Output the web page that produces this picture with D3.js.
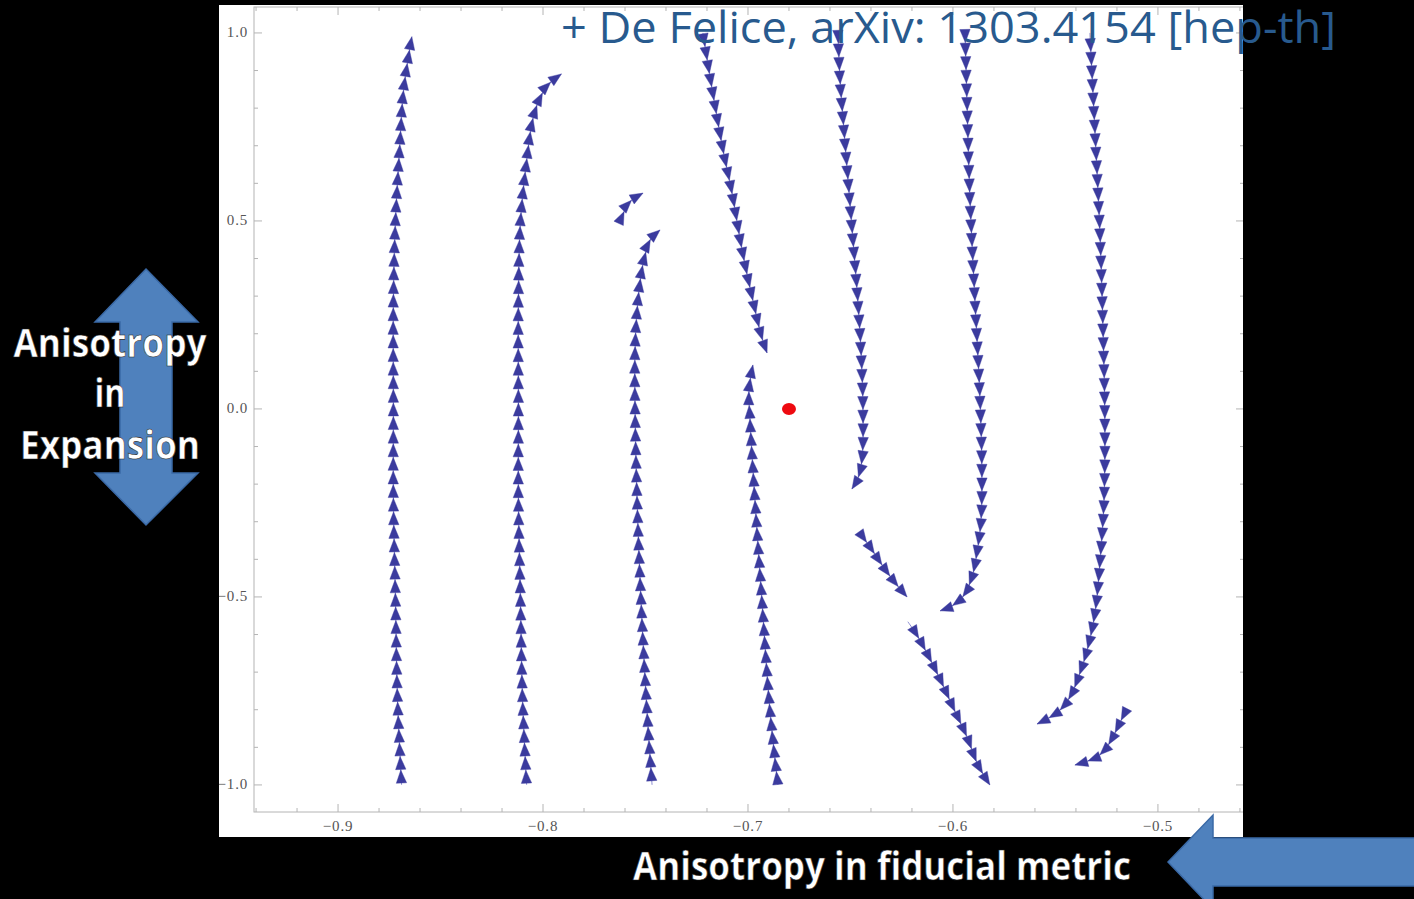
<!DOCTYPE html>
<meta charset="utf-8">
<style>
  body { margin: 0; background: #000; }
  svg { display: block; }
</style>
<div id="my_dataviz"></div>
<script src="https://d3js.org/d3.v7.min.js"></script>
<script>

// tick values
var xMajor = [-0.9, -0.8, -0.7, -0.6, -0.5];
var yMajor = [-1.0, -0.5, 0.0, 0.5, 1.0];

// fixed point of the flow
var fixedPoint = [-0.68, 0.0];

// streamlines, points given in the direction of the flow
var streamA = [[-0.869,-1.0],[-0.871,-0.77],[-0.872,-0.5],[-0.873,-0.24],[-0.873,0.0],[-0.873,0.29],[-0.872,0.5],[-0.870,0.69],[-0.868,0.85],[-0.864,0.99]];
var streamB = [[-0.808,-1.0],[-0.810,-0.77],[-0.811,-0.51],[-0.812,-0.24],[-0.812,0.0],[-0.812,0.29],[-0.811,0.5],[-0.808,0.66],[-0.805,0.77],[-0.8015,0.827],[-0.7976,0.862],[-0.791,0.891]];
var streamC = [[-0.7468,-1.0],[-0.7493,-0.80],[-0.7522,-0.508],[-0.7541,-0.242],[-0.7551,0.0],[-0.7551,0.157],[-0.7541,0.263],[-0.7522,0.356],[-0.7502,0.410],[-0.7478,0.449],[-0.7429,0.476]];
var streamFrag = [[-0.7624,0.5],[-0.7605,0.524],[-0.7576,0.551],[-0.7512,0.574]];
var streamD = [[-0.6854,-1.0],[-0.6893,-0.80],[-0.6932,-0.508],[-0.6966,-0.242],[-0.6990,-0.029],[-0.6995,0.051],[-0.6976,0.117]];
var streamE = [[-0.7220,1.0],[-0.7195,0.915],[-0.7166,0.822],[-0.7122,0.689],[-0.7078,0.574],[-0.7029,0.423],[-0.6980,0.298],[-0.6932,0.189],[-0.6907,0.149]];
var streamF = [[-0.6561,1.0],[-0.6551,0.875],[-0.6532,0.742],[-0.6512,0.609],[-0.6488,0.449],[-0.6468,0.316],[-0.6449,0.157],[-0.6439,-0.003],[-0.6444,-0.136],[-0.6463,-0.184],[-0.6493,-0.213]];
var streamG = [[-0.5941,1.0],[-0.5932,0.822],[-0.5917,0.556],[-0.5893,0.290],[-0.5868,0.024],[-0.5859,-0.162],[-0.5863,-0.295],[-0.5883,-0.383],[-0.5907,-0.447],[-0.5946,-0.495],[-0.6005,-0.524],[-0.6063,-0.537]];
var streamH = [[-0.5332,1.0],[-0.5307,0.734],[-0.5283,0.468],[-0.5268,0.210],[-0.5259,-0.029],[-0.5263,-0.242],[-0.5283,-0.410],[-0.5307,-0.543],[-0.5341,-0.633],[-0.5380,-0.702],[-0.5429,-0.766],[-0.5488,-0.806],[-0.5590,-0.838]];
var streamI = [[-0.6454,-0.330],[-0.6395,-0.375],[-0.6346,-0.415],[-0.6293,-0.455],[-0.6224,-0.5]];
var streamJ = [[-0.6220,-0.566],[-0.6171,-0.606],[-0.6078,-0.702],[-0.6000,-0.793],[-0.5932,-0.872],[-0.5878,-0.947],[-0.5820,-1.0]];
var streamK = [[-0.5151,-0.801],[-0.5171,-0.819],[-0.5210,-0.862],[-0.5249,-0.899],[-0.5298,-0.926],[-0.5405,-0.947]];

var streams = [streamA, streamB, streamC, streamFrag, streamD, streamE, streamF, streamG, streamH, streamI, streamJ, streamK];

var W = 1414, H = 899;

var svg = d3.select("#my_dataviz")
  .append("svg")
    .attr("width", W)
    .attr("height", H);

svg.append("rect").attr("width", W).attr("height", H).attr("fill", "#000");

// white slide area
svg.append("rect")
  .attr("x", 219).attr("y", 5)
  .attr("width", 1024).attr("height", 832)
  .attr("fill", "#fff");

svg.append("clipPath").attr("id", "plotclip")
  .append("rect").attr("x", 219).attr("y", 5).attr("width", 1024).attr("height", 832);

// scales
var x = d3.scaleLinear().domain([-0.941, -0.4585]).range([254, 1243]);
var y = d3.scaleLinear().domain([-1.072, 1.069]).range([812, 7]);

var frame = svg.append("g").attr("clip-path", "url(#plotclip)");
var frameColor = "#b4b4b4";

// frame box
frame.append("rect")
  .attr("x", x.range()[0]).attr("y", y.range()[1])
  .attr("width", x.range()[1] - x.range()[0] + 2)
  .attr("height", y.range()[0] - y.range()[1])
  .attr("fill", "none").attr("stroke", frameColor).attr("stroke-width", 1);

// ticks pointing inward
var xMinor = d3.range(-0.94, -0.459, 0.02);
var yMinor = d3.range(-1.0, 1.001, 0.1);
function isMajor(v, arr) { return arr.some(function(m) { return Math.abs(m - v) < 1e-6; }); }

xMinor.forEach(function(v) {
  var len = isMajor(v, xMajor) ? 8 : 4;
  frame.append("line").attr("x1", x(v)).attr("x2", x(v))
    .attr("y1", y.range()[0]).attr("y2", y.range()[0] - len)
    .attr("stroke", frameColor);
  frame.append("line").attr("x1", x(v)).attr("x2", x(v))
    .attr("y1", y.range()[1]).attr("y2", y.range()[1] + len)
    .attr("stroke", frameColor);
});
yMinor.forEach(function(v) {
  var len = isMajor(v, yMajor) ? 8 : 4;
  frame.append("line").attr("y1", y(v)).attr("y2", y(v))
    .attr("x1", x.range()[0]).attr("x2", x.range()[0] + len)
    .attr("stroke", frameColor);
  frame.append("line").attr("y1", y(v)).attr("y2", y(v))
    .attr("x1", x.range()[1] + 1).attr("x2", x.range()[1] + 1 - len)
    .attr("stroke", frameColor);
});

var fmt = d3.format(".1f");
frame.selectAll(".xlab").data(xMajor).enter().append("text")
  .attr("x", function(d) { return x(d); })
  .attr("y", 831)
  .attr("text-anchor", "middle")
  .style("font-family", "'Liberation Serif', serif")
  .style("font-size", "15px")
  .style("letter-spacing", "0.8px")
  .attr("fill", "#555")
  .text(function(d) { return fmt(d); });
frame.selectAll(".ylab").data(yMajor).enter().append("text")
  .attr("x", 248)
  .attr("y", function(d) { return y(d) + 4; })
  .attr("text-anchor", "end")
  .style("font-family", "'Liberation Serif', serif")
  .style("font-size", "15px")
  .style("letter-spacing", "0.8px")
  .attr("fill", "#555")
  .text(function(d) { return fmt(d); });

// streamlines with arrowheads
var line = d3.line()
  .x(function(d) { return x(d[0]); })
  .y(function(d) { return y(d[1]); })
  .curve(d3.curveCatmullRom.alpha(0.5));

var arrowColor = "#3b3b9e";
var spacing = 13.6, aLen = 13, aHalf = 5.2;
var sg = svg.append("g");

streams.forEach(function(s) {
  var path = sg.append("path")
    .attr("d", line(s))
    .attr("fill", "none")
    .attr("stroke", "#8c8cd2")
    .attr("stroke-width", 1);
  var node = path.node();
  var L = node.getTotalLength();
  for (var t = L; t >= aLen * 0.6; t -= spacing) {
    var p = node.getPointAtLength(t);
    var q = node.getPointAtLength(Math.max(0, t - 4));
    var dx = p.x - q.x, dy = p.y - q.y, n = Math.sqrt(dx * dx + dy * dy) || 1;
    dx /= n; dy /= n;
    var bx = p.x - dx * aLen, by = p.y - dy * aLen;
    var pts = [[p.x, p.y], [bx - dy * aHalf, by + dx * aHalf], [bx + dy * aHalf, by - dx * aHalf]];
    sg.append("path")
      .attr("d", "M" + pts.map(function(c) { return c[0].toFixed(2) + "," + c[1].toFixed(2); }).join("L") + "Z")
      .attr("fill", arrowColor)
      .attr("stroke", arrowColor).attr("stroke-width", 0.4);
  }
});

// fixed point
svg.append("ellipse")
  .attr("cx", x(fixedPoint[0])).attr("cy", y(fixedPoint[1]))
  .attr("rx", 7).attr("ry", 6)
  .attr("fill", "#ee0a10");

// slide decorations
var blue = "#4f81bd", blueEdge = "#3a69a6";

// double arrow on the left
svg.append("path")
  .attr("d", "M146,269 L198,322 L172,322 L172,473 L198,473 L146,525 L95,473 L120,473 L120,322 L95,322 Z")
  .attr("fill", blue).attr("stroke", blueEdge).attr("stroke-width", 1.5);

// arrow at the bottom right
svg.append("path")
  .attr("d", "M1168,862 L1213,815 L1213,838 L1420,838 L1420,886 L1213,886 L1213,909 Z")
  .attr("fill", blue).attr("stroke", blueEdge).attr("stroke-width", 1.5);

var labelFont = "'Open Sans', sans-serif";
function label(txt, cx, by, w, size) {
  svg.append("text")
    .attr("x", cx).attr("y", by)
    .attr("text-anchor", "middle")
    .attr("textLength", w)
    .attr("lengthAdjust", "spacingAndGlyphs")
    .style("font-family", labelFont)
    .style("font-weight", "700")
    .style("font-size", size + "px")
    .attr("fill", "#fff")
    .attr("stroke", "#222").attr("stroke-width", 0.6)
    .text(txt);
}
label("Anisotropy", 110, 357, 193, 40);
label("in", 110, 407, 31, 40);
label("Expansion", 110, 459, 180, 40);
label("Anisotropy in fiducial metric", 882, 880, 498, 40);

// citation
svg.append("text")
  .attr("x", 561).attr("y", 43)
  .attr("textLength", 775)
  .attr("lengthAdjust", "spacingAndGlyphs")
  .style("font-family", "'Open Sans', sans-serif")
  .style("font-size", "43px")
  .attr("fill", "#285a8e")
  .text("+ De Felice, arXiv: 1303.4154 [hep-th]");

</script>
